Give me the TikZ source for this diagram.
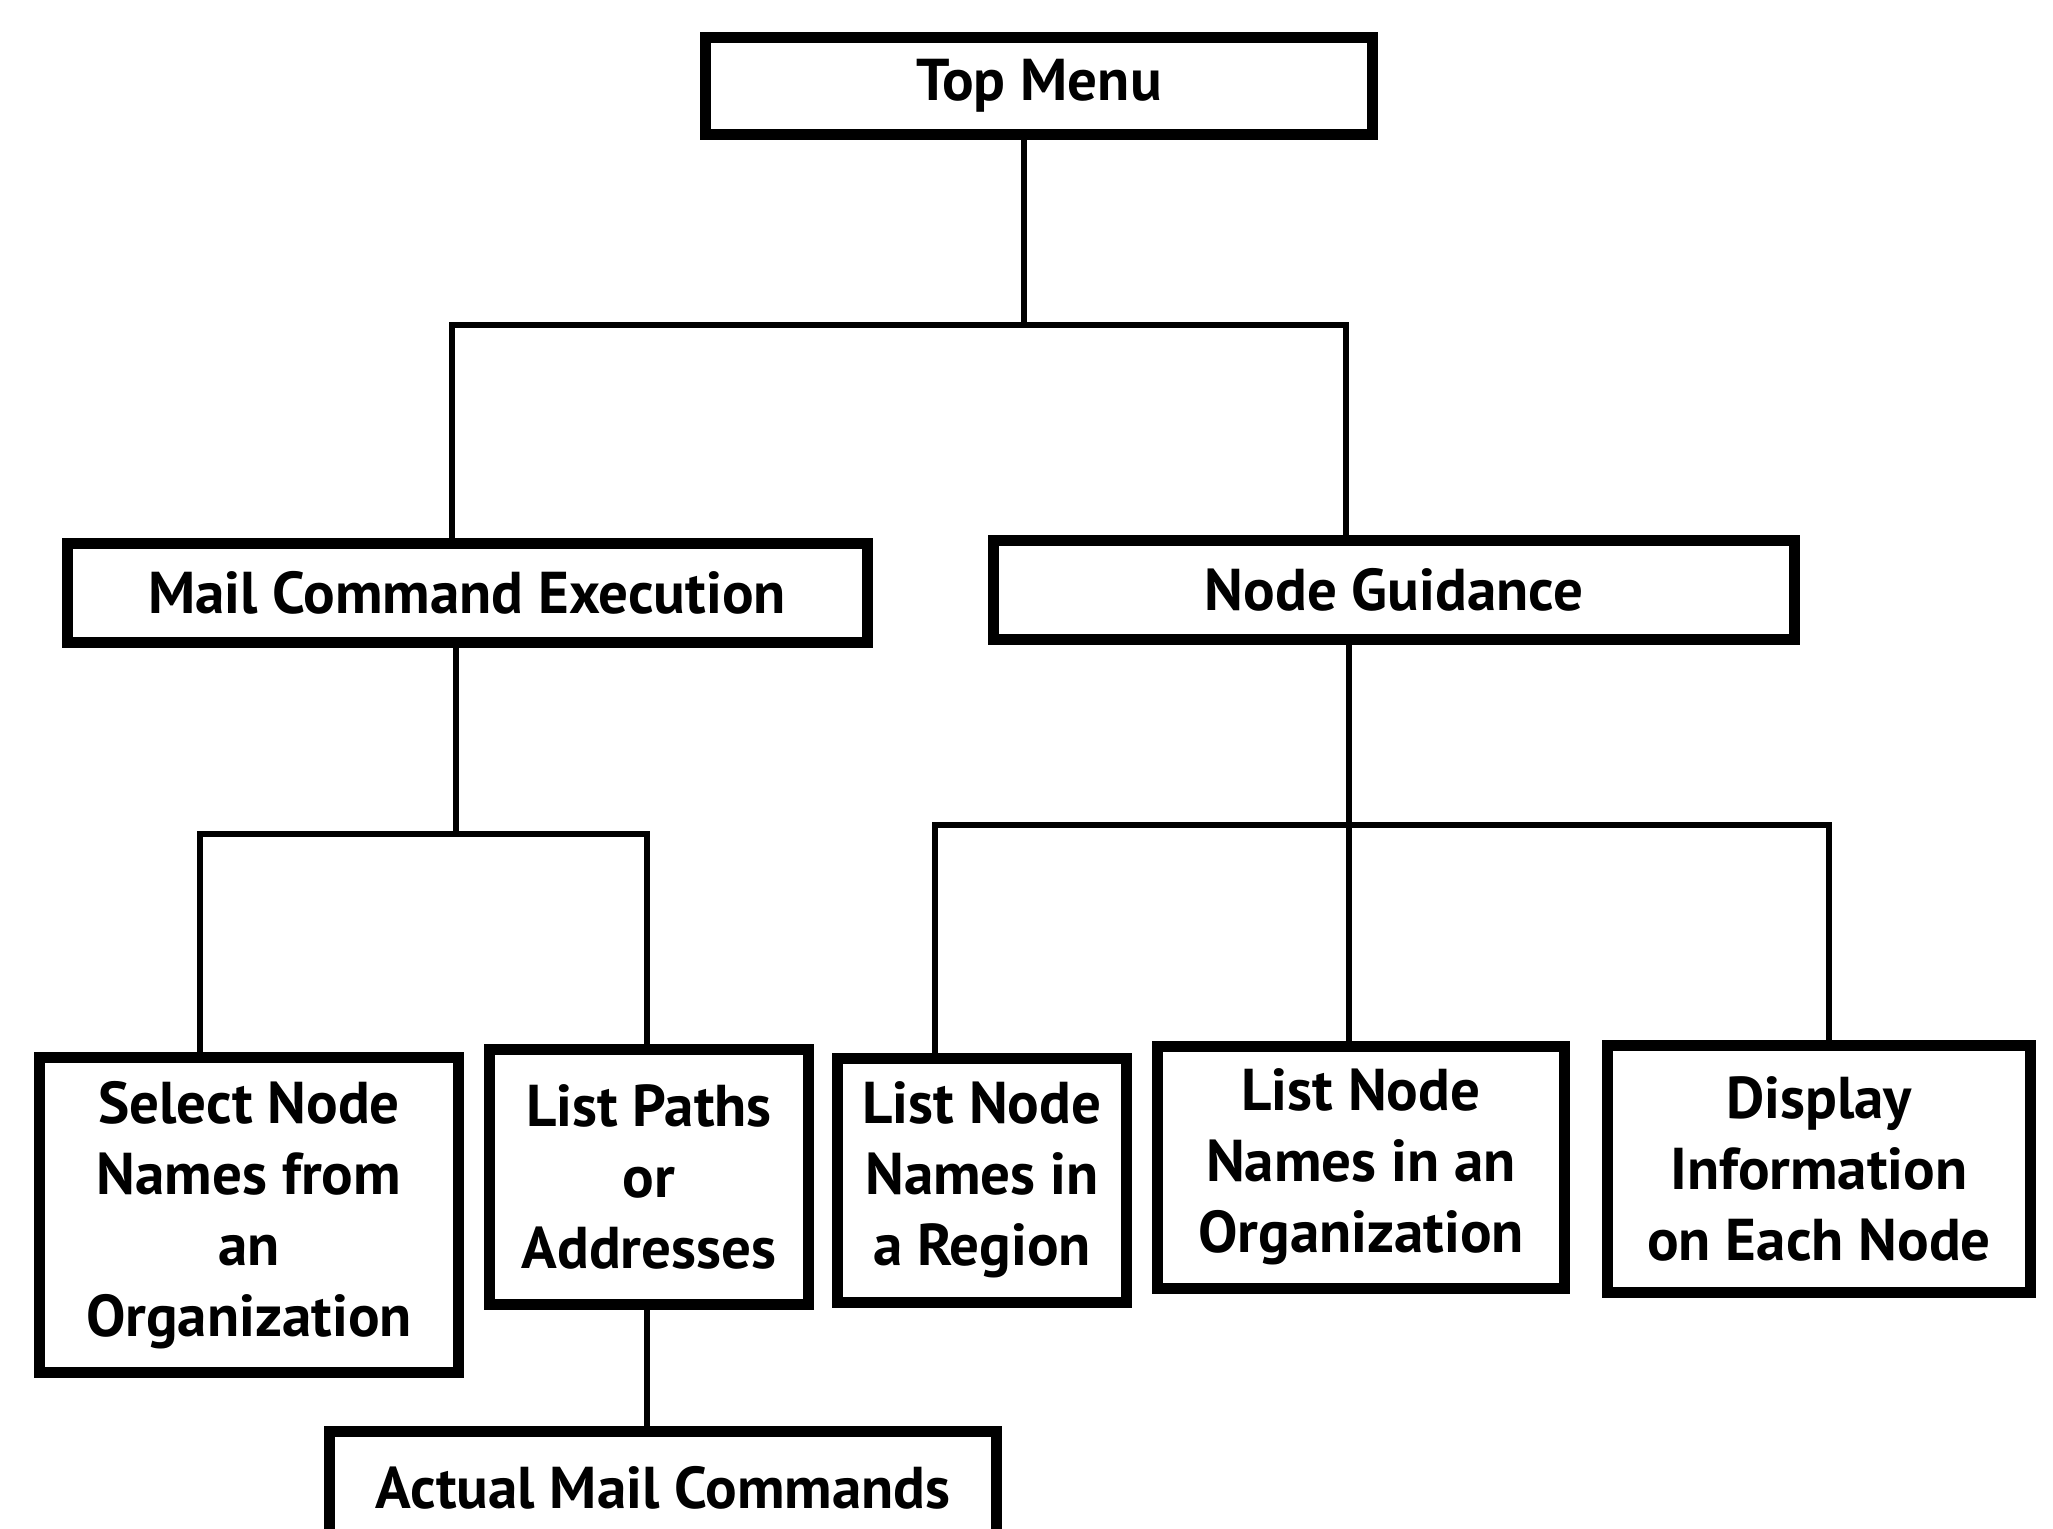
\documentclass[tikz,border=0pt]{standalone}
\usepackage{fontspec}
\setmainfont{PT Sans}
\begin{document}
\begin{tikzpicture}[x=0.5pt,y=-0.5pt,
  box/.style={draw=black, line width=5.5pt, fill=white, inner sep=0pt, align=center,
    font=\bfseries\fontsize{29.5}{35.5}\selectfont},
  conn/.style={draw=black, line width=2.6pt}]
\useasboundingbox (0,0) rectangle (2053,1529);
\clip (0,0) rectangle (2053,1529);
\fill[white] (0,0) rectangle (2053,1529);
% nodes (centers, sizes in px)
\node[box, minimum width=667pt*0.5, minimum height=97pt*0.5] (top) at (1039,86) {Top Menu};
\node[box, minimum width=800pt*0.5, minimum height=99pt*0.5] (mce) at (467,593) {Mail Command Execution};
\node[box, minimum width=801pt*0.5, minimum height=99pt*0.5] (ng) at (1394,590) {Node Guidance};
\node[box, minimum width=419pt*0.5, minimum height=315pt*0.5] (sel) at (249,1215) {Select Node\\Names from\\an\\Organization};
\node[box, minimum width=319pt*0.5, minimum height=255pt*0.5] (lp) at (649,1177) {List Paths\\or\\Addresses};
\node[box, minimum width=289pt*0.5, minimum height=244pt*0.5] (reg) at (982,1180) {List Node\\Names in\\a Region};
\node[box, minimum width=407pt*0.5, minimum height=242pt*0.5] (org) at (1361,1167) {List Node\\Names in an\\Organization};
\node[box, minimum width=423pt*0.5, minimum height=247pt*0.5] (disp) at (1819,1169) {Display\\Information\\on Each Node};
\node[box, minimum width=667pt*0.5, minimum height=113pt*0.5] (act) at (663,1488) {Actual Mail Commands};
% junction coordinates
\coordinate (j0) at (1024,325);
\coordinate (jL) at (452,325);
\coordinate (jR) at (1346,325);
\coordinate (m0) at (456,834);
\coordinate (m1) at (200,834);
\coordinate (m2) at (647,834);
\coordinate (n0) at (1349,825);
\coordinate (n1) at (935,825);
\coordinate (n2) at (1829,825);
% connectors
\draw[conn] (top.south -| j0) -- (j0);
\draw[conn] (mce.north -| jL) |- (jR) -- (ng.north -| jR);
\draw[conn] (mce.south -| m0) -- (m0);
\draw[conn] (sel.north -| m1) |- (m2) -- (lp.north -| m2);
\draw[conn] (ng.south -| n0) -- (org.north -| n0);
\draw[conn] (reg.north -| n1) |- (n2) -- (disp.north -| n2);
\draw[conn] (lp.south -| m2) -- (act.north -| m2);
\end{tikzpicture}
\end{document}
